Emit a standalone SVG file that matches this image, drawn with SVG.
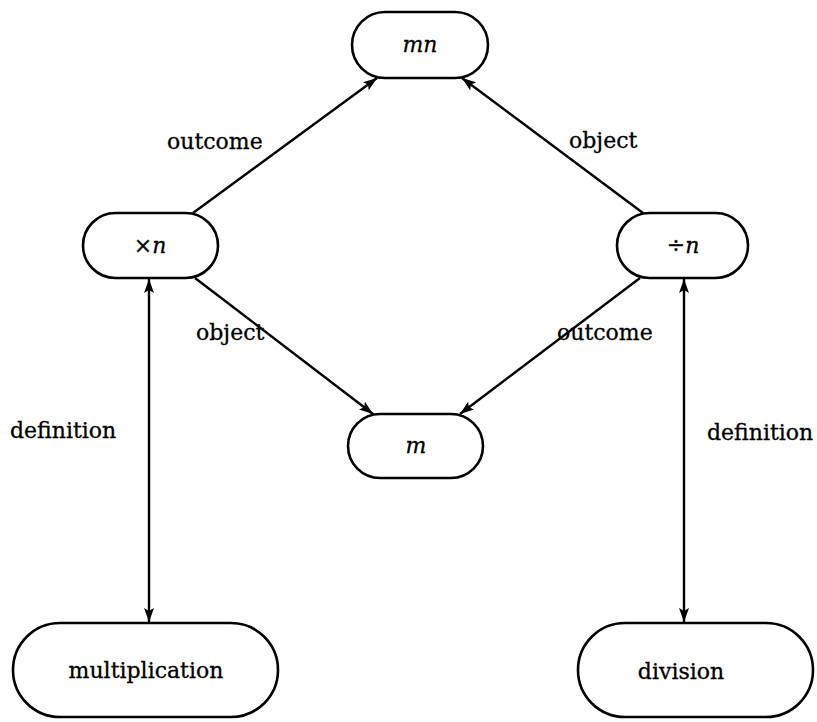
<svg xmlns="http://www.w3.org/2000/svg" width="817" height="722" viewBox="0 0 817 722">
<style>
.node{fill:#fff;stroke:#000;stroke-width:2.6}
.edge{fill:none;stroke:#000;stroke-width:2.4}
text{font-family:"DejaVu Serif","Liberation Serif",serif;font-size:22px;fill:#000;stroke:#000;stroke-width:0.3}
.nt{text-anchor:middle}
.it{font-style:italic}
</style>
<defs>
<marker id="ah" viewBox="0 0 14 10" refX="14" refY="5" markerWidth="14" markerHeight="10" markerUnits="userSpaceOnUse" orient="auto-start-reverse">
<path d="M0,0 L14,5 L0,10 L3,5 Z" fill="#000"/>
</marker>
</defs>
<rect width="817" height="722" fill="#fff"/>
<g id="connectors">
<line class="edge" x1="193" y1="213" x2="377" y2="78" marker-end="url(#ah)"/>
<line class="edge" x1="643" y1="213" x2="462" y2="78" marker-end="url(#ah)"/>
<line class="edge" x1="195" y1="278" x2="373" y2="414" marker-end="url(#ah)"/>
<line class="edge" x1="640" y1="278" x2="460" y2="414" marker-end="url(#ah)"/>
<line class="edge" x1="149" y1="279" x2="149" y2="622" marker-start="url(#ah)" marker-end="url(#ah)"/>
<line class="edge" x1="684" y1="279" x2="684" y2="622" marker-start="url(#ah)" marker-end="url(#ah)"/>
<text x="167" y="149">outcome</text>
<text x="569" y="148">object</text>
<text x="196" y="340">object</text>
<text x="557" y="340">outcome</text>
<text x="10" y="438">definition</text>
<text x="707" y="440">definition</text>
</g>
<g id="node-mn">
<rect class="node" x="352" y="12" width="136" height="66" rx="33"/>
<text class="nt it" x="420" y="52">mn</text>
</g>
<g id="node-times-n">
<rect class="node" x="83" y="213" width="135" height="65" rx="32.5"/>
<text class="nt" x="150" y="253">×<tspan class="it">n</tspan></text>
</g>
<g id="node-div-n">
<rect class="node" x="617" y="213" width="131" height="65" rx="32.5"/>
<text class="nt" x="683" y="253">÷<tspan class="it">n</tspan></text>
</g>
<g id="node-m">
<rect class="node" x="348" y="414" width="135" height="64" rx="32"/>
<text class="nt it" x="416" y="453">m</text>
</g>
<g id="node-multiplication">
<rect class="node" x="13" y="623" width="265" height="94" rx="47"/>
<text class="nt" x="146" y="678">multiplication</text>
</g>
<g id="node-division">
<rect class="node" x="578" y="623" width="235" height="94" rx="47"/>
<text class="nt" x="681" y="679">division</text>
</g>
</svg>
